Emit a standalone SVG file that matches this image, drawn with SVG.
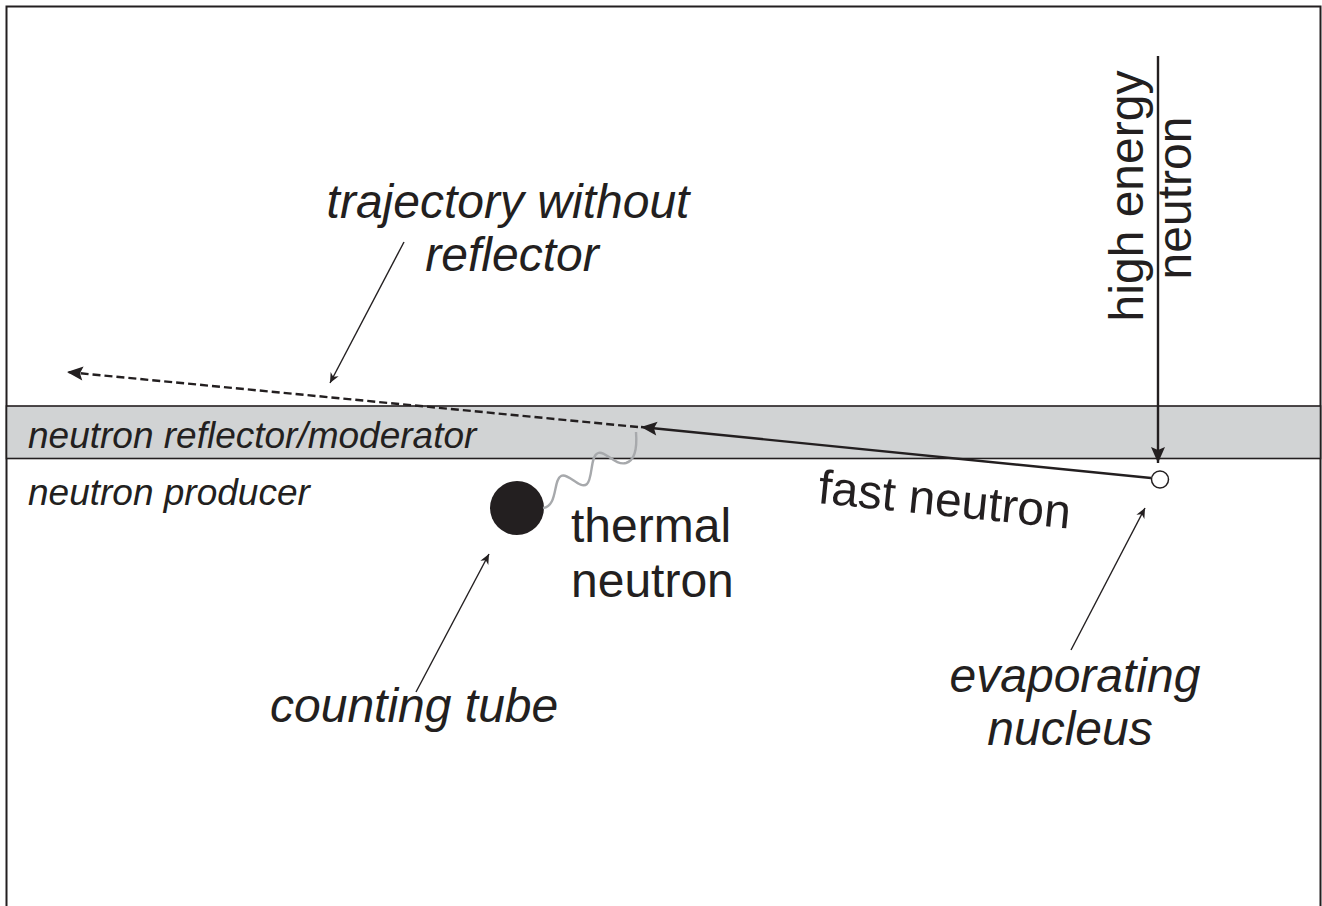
<svg xmlns="http://www.w3.org/2000/svg" width="1322" height="906" viewBox="0 0 1322 906">
  <style>
    .lbl { font-family: "Liberation Sans", Arial, sans-serif; fill: #231f20; }
    .big { font-size: 48px; }
    .mid { font-size: 37px; }
    .it { font-style: italic; }
    .main { stroke: #231f20; stroke-width: 2.4; fill: none; }
    .lead { stroke: #231f20; stroke-width: 1.4; fill: none; }
  </style>
  <defs>
    <marker id="headBig" markerUnits="userSpaceOnUse" viewBox="-18 -8 20 16" refX="0" refY="0" markerWidth="20" markerHeight="16" orient="auto">
      <path d="M0,0 L-16,-7 L-13,0 L-16,7 Z" fill="#231f20"/>
    </marker>
    <marker id="headSmall" markerUnits="userSpaceOnUse" viewBox="-12 -6 14 12" refX="0" refY="0" markerWidth="14" markerHeight="12" orient="auto">
      <path d="M0,0 L-10,-4.5 L-7,0 L-10,4.5 Z" fill="#231f20"/>
    </marker>
  </defs>

  <rect x="0" y="0" width="1322" height="906" fill="#ffffff"/>

  <!-- layers -->
  <g id="frame">
    <rect x="6.5" y="6.5" width="1314" height="920" fill="none" stroke="#231f20" stroke-width="2"/>
  </g>
  <g id="reflector-layer">
    <rect x="6.5" y="406" width="1314" height="52.5" fill="#d1d3d4" stroke="#231f20" stroke-width="1.6"/>
    <text class="lbl mid it" x="28" y="448">neutron reflector/moderator</text>
  </g>
  <g id="producer-layer">
    <text class="lbl mid it" x="28" y="505">neutron producer</text>
  </g>

  <!-- particles -->
  <g id="counting-tube">
    <circle cx="517" cy="508" r="27" fill="#231f20"/>
  </g>
  <g id="nucleus">
    <circle cx="1160" cy="479.5" r="8.5" fill="#ffffff" stroke="#231f20" stroke-width="1.5"/>
  </g>

  <!-- connectors -->
  <g id="connectors">
    <line class="main" x1="1158" y1="56" x2="1158" y2="463" marker-end="url(#headBig)"/>
    <line class="main" x1="1151" y1="478" x2="641" y2="427" marker-end="url(#headBig)"/>
    <line class="main" x1="638" y1="427" x2="67" y2="372" stroke-dasharray="8 4" marker-end="url(#headBig)"/>
    <path d="M636,432 C637,445 636,460 626,463 C615,466 605,450 598,453 C590,456 593,478 587,484 C580,490 568,472 561,476 C553,480 558,506 543,508" fill="none" stroke="#a7a9ac" stroke-width="2.4"/>
    <line class="lead" x1="404" y1="242" x2="330" y2="383" marker-end="url(#headSmall)"/>
    <line class="lead" x1="416" y1="692" x2="489" y2="554" marker-end="url(#headSmall)"/>
    <line class="lead" x1="1071" y1="650" x2="1145" y2="508" marker-end="url(#headSmall)"/>
  </g>

  <!-- labels -->
  <g id="label-trajectory">
    <text class="lbl big it" x="508" y="218" text-anchor="middle">trajectory without</text>
    <text class="lbl big it" x="512" y="271" text-anchor="middle">reflector</text>
  </g>
  <g id="label-high-energy">
    <text class="lbl big" transform="translate(1143,196) rotate(-90)" text-anchor="middle">high energy</text>
    <text class="lbl big" transform="translate(1191,198) rotate(-90)" text-anchor="middle">neutron</text>
  </g>
  <g id="label-fast">
    <text class="lbl big" transform="translate(817,503) rotate(5.8)">fast neutron</text>
  </g>
  <g id="label-thermal">
    <text class="lbl big" x="571" y="542">thermal</text>
    <text class="lbl big" x="571" y="597">neutron</text>
  </g>
  <g id="label-counting">
    <text class="lbl big it" x="270" y="722">counting tube</text>
  </g>
  <g id="label-evaporating">
    <text class="lbl big it" x="1075" y="692" text-anchor="middle">evaporating</text>
    <text class="lbl big it" x="1070" y="745" text-anchor="middle">nucleus</text>
  </g>
</svg>
